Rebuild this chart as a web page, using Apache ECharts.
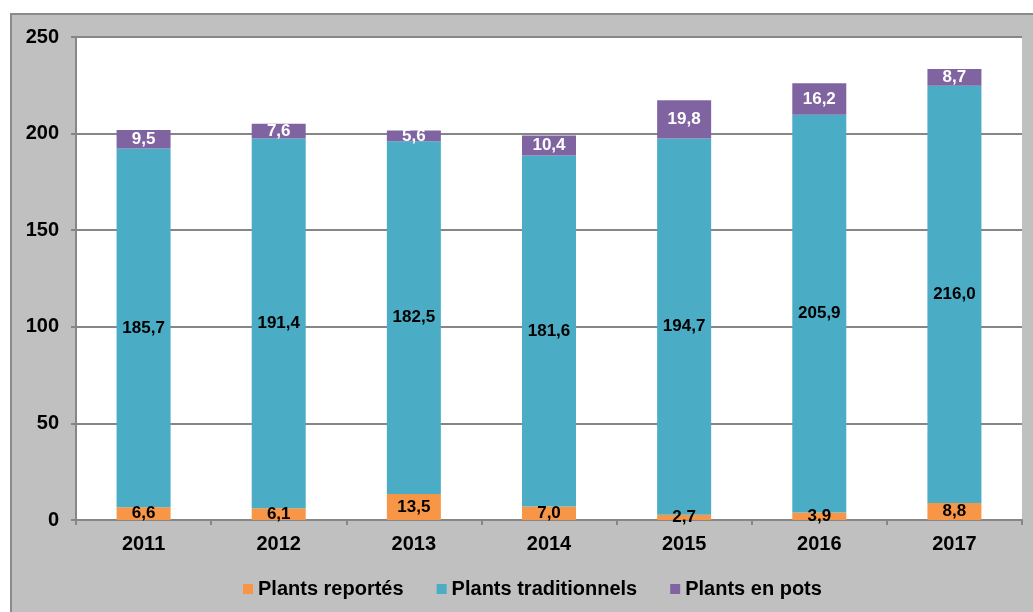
<!DOCTYPE html>
<html>
<head>
<meta charset="utf-8">
<script src="https://cdn.jsdelivr.net/npm/echarts@6/dist/echarts.min.js"></script>
<style>
  html, body { margin: 0; padding: 0; background: #ffffff; }
  #chart {
    position: absolute; left: 10px; top: 13px;
    width: 1021px; height: 597px;
    background: #c0c0c0;
    border-left: 2px solid #8a8a8a; border-top: 2px solid #8a8a8a;
  }
</style>
</head>
<body>
<div id="chart"></div>
<script>
// années
var years = ['2011', '2012', '2013', '2014', '2015', '2016', '2017'];
// séries
var plantsReportes = [6.6, 6.1, 13.5, 7.0, 2.7, 3.9, 8.8];
var plantsTraditionnels = [185.7, 191.4, 182.5, 181.6, 194.7, 205.9, 216.0];
var plantsEnPots = [9.5, 7.6, 5.6, 10.4, 19.8, 16.2, 8.7];
var yTicks = [0, 50, 100, 150, 200, 250];

var fontFam = 'Liberation Sans, Arial, sans-serif';

function fmt(p) {
  return p.value.toFixed(1).replace('.', ',');
}

function serie(name, data, color, labelColor) {
  return {
    name: name,
    type: 'bar',
    stack: 'total',
    barWidth: 54,
    data: data,
    itemStyle: { color: color },
    label: {
      show: true,
      position: 'inside',
      formatter: fmt,
      color: labelColor,
      fontFamily: fontFam,
      fontWeight: 'bold',
      fontSize: 17
    }
  };
}

var myChart = echarts.init(document.getElementById('chart'));
var option = {
  animation: false,
  textStyle: { fontFamily: fontFam },
  grid: {
    left: 64, top: 22, right: 11, bottom: 92,
    show: true, backgroundColor: '#ffffff', borderWidth: 0
  },
  legend: {
    top: 559,
    left: 226,
    itemWidth: 10,
    itemHeight: 10,
    itemGap: 33,
    icon: 'rect',
    textStyle: { fontFamily: fontFam, fontWeight: 'bold', fontSize: 20, color: '#000' },
    data: ['Plants reportés', 'Plants traditionnels', 'Plants en pots']
  },
  xAxis: {
    type: 'category',
    data: years,
    axisLine: { lineStyle: { color: '#868686', width: 2 } },
    axisTick: { show: true, length: 5, lineStyle: { color: '#868686', width: 2 } },
    axisLabel: { color: '#000', fontFamily: fontFam, fontWeight: 'bold', fontSize: 20, margin: 14 }
  },
  yAxis: {
    type: 'value',
    min: yTicks[0],
    max: yTicks[yTicks.length - 1],
    interval: 50,
    axisLine: { show: true, lineStyle: { color: '#868686', width: 2 } },
    axisTick: { show: true, length: 5, lineStyle: { color: '#868686', width: 2 } },
    splitLine: { lineStyle: { color: '#868686', width: 2 } },
    axisLabel: { color: '#000', fontFamily: fontFam, fontWeight: 'bold', fontSize: 20, margin: 17 }
  },
  series: [
    serie('Plants reportés', plantsReportes, '#f79646', '#000'),
    serie('Plants traditionnels', plantsTraditionnels, '#4bacc6', '#000'),
    serie('Plants en pots', plantsEnPots, '#8064a2', '#fff')
  ]
};
myChart.setOption(option);
</script>
</body>
</html>
